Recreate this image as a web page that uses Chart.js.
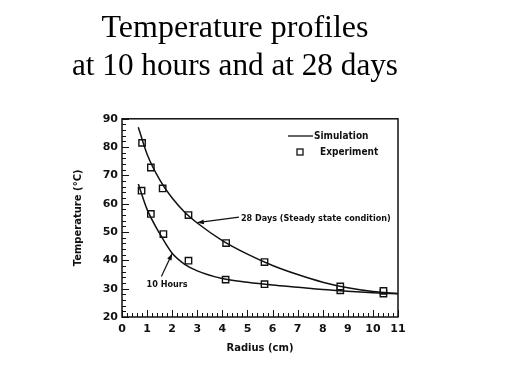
<!DOCTYPE html>
<html>
<head>
<meta charset="utf-8">
<script src="https://cdn.jsdelivr.net/npm/chart.js@4"></script>
<style>
  html, body { margin: 0; padding: 0; background: #fff; }
  #wrap { width: 519px; height: 389px; }
</style>
</head>
<body>
<div id="wrap"><canvas id="chart" width="519" height="389"></canvas></div>
<script>
// measured points (squares)
const expRadius28d = [0.8, 1.15, 1.62, 2.65, 4.15, 5.68, 8.7, 10.42];
const expTemp28d = [81.5, 72.8, 65.4, 56.0, 46.1, 39.4, 30.8, 29.2];
const expRadius10h = [0.78, 1.15, 1.65, 2.65, 4.13, 5.68, 8.7, 10.42];
const expTemp10h = [64.6, 56.4, 49.3, 39.9, 33.2, 31.6, 29.4, 28.3];

// simulation curves
const simRadius = [0.65, 1, 1.5, 2, 2.5, 3, 4, 5, 6, 7, 8, 9, 10, 11];
const simTemp28d = [87, 77.5, 68.5, 62, 57, 53.2, 47, 42.2, 38.2, 35, 32.3, 30.3, 29, 28.3];
const simTemp10h = [67, 58, 49.5, 42.5, 38.6, 36.3, 33.6, 32.3, 31.3, 30.5, 29.7, 29.1, 28.6, 28.2];

const xTicks = [0, 1, 2, 3, 4, 5, 6, 7, 8, 9, 10, 11];
const yTicks = [20, 30, 40, 50, 60, 70, 80, 90];

const ink = "#111";
const tickFont = { family: "DejaVu Sans", size: 11, weight: "bold" };
const labelFont = { family: "DejaVu Sans", size: 10, weight: "bold" };

function pairs(xs, ys) {
    return xs.map((x, i) => ({ x: x, y: ys[i] }));
}

// frame, inward ticks, legend box and the two arrow notes
const decorations = {
    id: "decorations",
    afterDraw(chart) {
        const ctx = chart.ctx;
        const a = chart.chartArea;
        const xs = chart.scales.x;
        const ys = chart.scales.y;
        ctx.save();
        ctx.strokeStyle = ink;
        ctx.fillStyle = ink;
        ctx.lineWidth = 1.5;
        ctx.strokeRect(a.left, a.top, a.right - a.left, a.bottom - a.top);

        ctx.lineWidth = 1;
        ctx.beginPath();
        for (let v = 0; v <= 11.001; v += 0.2) {
            const px = Math.round(xs.getPixelForValue(v)) + 0.5;
            const major = Math.abs(v - Math.round(v)) < 0.01;
            ctx.moveTo(px, a.bottom);
            ctx.lineTo(px, a.bottom - (major ? 7 : 4));
        }
        for (let v = 20; v <= 90; v += 2) {
            const py = Math.round(ys.getPixelForValue(v)) + 0.5;
            const major = v % 10 === 0;
            ctx.moveTo(a.left, py);
            ctx.lineTo(a.left + (major ? 7 : 4), py);
        }
        ctx.stroke();

        // legend
        ctx.font = "bold 10px 'DejaVu Sans Condensed', 'DejaVu Sans'";
        ctx.textBaseline = "middle";
        ctx.lineWidth = 1.3;
        ctx.beginPath();
        ctx.moveTo(288, 136);
        ctx.lineTo(313, 136);
        ctx.stroke();
        ctx.fillText("Simulation", 314, 136);
        ctx.strokeRect(297, 149, 6, 6);
        ctx.fillText("Experiment", 320, 152);

        // notes with arrows
        function arrow(x1, y1, x2, y2) {
            ctx.beginPath();
            ctx.moveTo(x1, y1);
            ctx.lineTo(x2, y2);
            ctx.stroke();
            const ang = Math.atan2(y2 - y1, x2 - x1);
            ctx.beginPath();
            ctx.moveTo(x2, y2);
            ctx.lineTo(x2 - 7 * Math.cos(ang - 0.35), y2 - 7 * Math.sin(ang - 0.35));
            ctx.lineTo(x2 - 7 * Math.cos(ang + 0.35), y2 - 7 * Math.sin(ang + 0.35));
            ctx.closePath();
            ctx.fill();
        }
        ctx.font = "bold 9px 'DejaVu Sans Condensed', 'DejaVu Sans'";
        ctx.lineWidth = 1.2;
        const n1x = xs.getPixelForValue(4.7), n1y = ys.getPixelForValue(54.6);
        ctx.fillText("28 Days (Steady state condition)", n1x + 1, n1y);
        arrow(n1x - 1, n1y - 2, xs.getPixelForValue(3.0), ys.getPixelForValue(53.3));
        const n2x = xs.getPixelForValue(0.98), n2y = ys.getPixelForValue(31.3);
        ctx.fillText("10 Hours", n2x, n2y);
        arrow(xs.getPixelForValue(1.57), ys.getPixelForValue(34.3), xs.getPixelForValue(2.0), ys.getPixelForValue(42.4));
        ctx.restore();
    }
};

new Chart(document.getElementById("chart"), {
    type: "scatter",
    data: {
        datasets: [
            { label: "Simulation 28 days", data: pairs(simRadius, simTemp28d), showLine: true,
              borderColor: ink, borderWidth: 1.5, pointRadius: 0, cubicInterpolationMode: "monotone" },
            { label: "Simulation 10 hours", data: pairs(simRadius, simTemp10h), showLine: true,
              borderColor: ink, borderWidth: 1.5, pointRadius: 0, cubicInterpolationMode: "monotone" },
            { label: "Experiment 28 days", data: pairs(expRadius28d, expTemp28d), pointStyle: "rect",
              pointRadius: 4.5, borderColor: ink, borderWidth: 1.4, backgroundColor: "#fff" },
            { label: "Experiment 10 hours", data: pairs(expRadius10h, expTemp10h), pointStyle: "rect",
              pointRadius: 4.5, borderColor: ink, borderWidth: 1.4, backgroundColor: "#fff" }
        ]
    },
    options: {
        responsive: false,
        animation: false,
        layout: { padding: { left: 72, right: 121, top: 0, bottom: 35 } },
        plugins: {
            legend: { display: false },
            tooltip: { enabled: false },
            title: {
                display: true,
                text: ["Temperature profiles", "at 10 hours and at 28 days"],
                color: "#000",
                font: { family: "Liberation Serif", size: 32, weight: "normal", lineHeight: 1.2 },
                padding: { top: 9, bottom: 33 }
            }
        },
        scales: {
            x: {
                type: "linear", min: 0, max: 11,
                afterBuildTicks: s => { s.ticks = xTicks.map(v => ({ value: v })); },
                afterFit: s => { s.height = 37; },
                grid: { display: false, drawTicks: false },
                border: { display: false },
                ticks: { color: ink, font: tickFont, padding: 6, maxRotation: 0 },
                title: { display: true, text: "Radius (cm)", color: ink, font: labelFont, padding: 0 }
            },
            y: {
                type: "linear", min: 20, max: 90,
                afterBuildTicks: s => { s.ticks = yTicks.map(v => ({ value: v })); },
                afterFit: s => { s.width = 50; },
                grid: { display: false, drawTicks: false },
                border: { display: false },
                ticks: { color: ink, font: tickFont, padding: 4 },
                title: { display: true, text: "Temperature (°C)", color: ink, font: labelFont, padding: 0 }
            }
        }
    },
    plugins: [decorations]
});
</script>
</body>
</html>
